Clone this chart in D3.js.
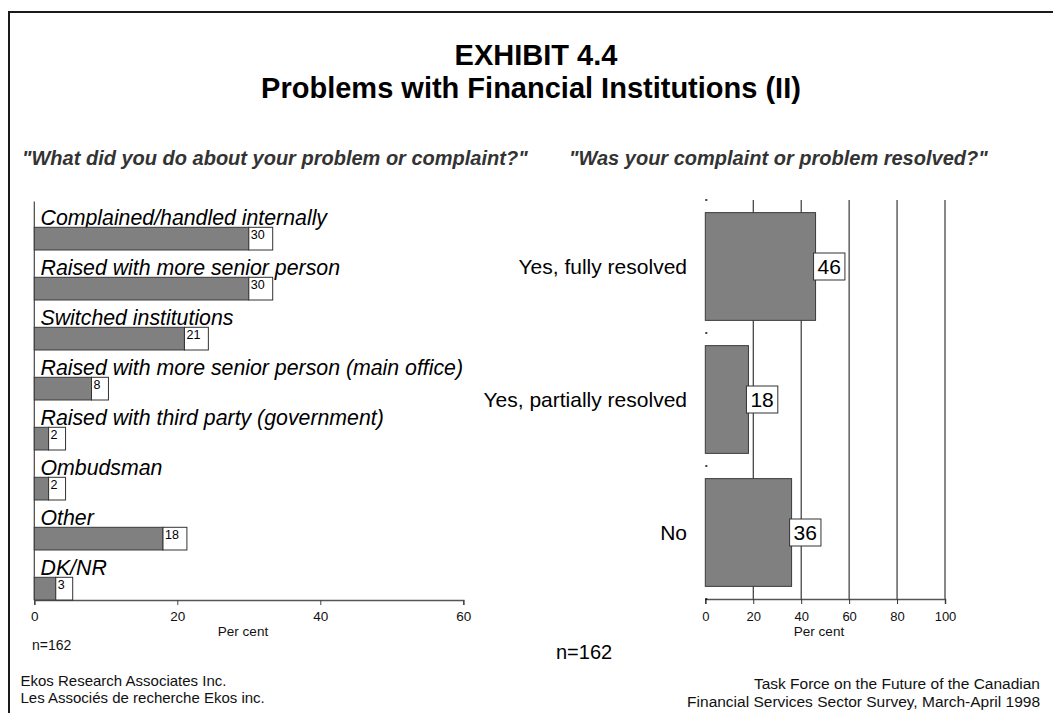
<!DOCTYPE html>
<html><head><meta charset="utf-8">
<script src="https://cdn.jsdelivr.net/npm/d3@7"></script>
<style>
html,body{margin:0;padding:0;background:#fff;}
text{font-family:"Liberation Sans",Arial,Helvetica,sans-serif;}
</style></head>
<body>
<svg id="chart" width="1053" height="713"></svg>
<script>
// ---- data ----
const actionCategories = ["Complained/handled internally","Raised with more senior person","Switched institutions","Raised with more senior person (main office)","Raised with third party (government)","Ombudsman","Other","DK/NR"];
const actionValues = [30,30,21,8,2,2,18,3];
const actionTicks = [0,20,40,60];
const resolvedCategories = ["Yes, fully resolved","Yes, partially resolved","No"];
const resolvedValues = [46,18,36];
const resolvedTicks = [0,20,40,60,80,100];
const titleLines = ["EXHIBIT 4.4","Problems with Financial Institutions (II)"];
const leftQuestion = "\"What did you do about your problem or complaint?\"";
const rightQuestion = "\"Was your complaint or problem resolved?\"";
const sampleLabel = "n=162";
const footerLeft = ["Ekos Research Associates Inc.","Les Associés de recherche Ekos inc."];
const footerRight = ["Task Force on the Future of the Canadian","Financial Services Sector Survey, March-April 1998"];

const svg = d3.select("#chart");
const BAR_FILL = "#808080", BAR_STROKE = "#3a3a3a";

// frame
svg.append("rect").attr("x",9).attr("y",12).attr("width",1100).attr("height",800)
  .attr("fill","none").attr("stroke","#1a1a1a").attr("stroke-width",2);

// titles
svg.append("text").attr("x",536).attr("y",65).attr("text-anchor","middle").attr("font-size",29)
  .attr("font-weight","bold").attr("fill","#000").text(titleLines[0]);
svg.append("text").attr("x",531).attr("y",98).attr("text-anchor","middle").attr("font-size",29)
  .attr("font-weight","bold").attr("fill","#000").text(titleLines[1]);

svg.append("text").attr("x",22).attr("y",165).attr("font-size",20).attr("font-weight","bold")
  .attr("font-style","italic").attr("fill","#333").text(leftQuestion);
svg.append("text").attr("x",569).attr("y",165).attr("font-size",20).attr("font-weight","bold")
  .attr("font-style","italic").attr("fill","#333").text(rightQuestion);

// ---- left chart ----
const xL = d3.scaleLinear().domain([0,60]).range([34.3,463.3]);
const yL = d3.scaleBand().domain(actionCategories).range([200,600]).paddingInner(0).paddingOuter(0);
const bw = yL.bandwidth();
const barTopOff = bw*0.546, barH = bw*0.454;

const gL = svg.append("g");
gL.append("line").attr("x1",xL(0)).attr("x2",xL(0)).attr("y1",201.5).attr("y2",600).attr("stroke","#444").attr("stroke-width",1.2);
const axL = gL.append("g").attr("transform","translate(0,600)")
  .call(d3.axisBottom(xL).tickValues(actionTicks).tickSize(5).tickPadding(6));
axL.select(".domain").attr("stroke","#555").attr("stroke-width",1.5);
axL.selectAll(".tick line").attr("stroke","#444");
axL.selectAll(".tick text").attr("font-size",13.5).attr("fill","#111").attr("font-family","Liberation Sans, Arial, sans-serif");
gL.append("text").attr("x",243).attr("y",636).attr("text-anchor","middle").attr("font-size",13.5).attr("fill","#111").text("Per cent");

const rowsL = gL.selectAll("g.row").data(actionCategories.map((c,i)=>({c,v:actionValues[i]}))).join("g").attr("class","row");
rowsL.append("text").attr("x",40.5).attr("y",d=>yL(d.c)+25).attr("font-size",21.3).attr("font-style","italic").attr("fill","#000").text(d=>d.c);
rowsL.append("rect").attr("x",xL(0)).attr("y",d=>yL(d.c)+barTopOff).attr("width",d=>xL(d.v)-xL(0)).attr("height",barH)
  .attr("fill",BAR_FILL).attr("stroke",BAR_STROKE).attr("stroke-width",1);
rowsL.each(function(d){
  const g = d3.select(this);
  const t = g.append("text").attr("font-size",12.5).attr("fill","#000").text(d.v);
  const w = t.node().getComputedTextLength();
  const bx = xL(d.v), by = yL(d.c)+barTopOff;
  g.insert("rect","text:last-child").attr("x",bx).attr("y",by).attr("width",w+10).attr("height",barH)
    .attr("fill","#fff").attr("stroke","#333").attr("stroke-width",1);
  t.attr("x",bx+2).attr("y",by+12);
  t.raise();
});

gL.append("text").attr("x",32).attr("y",650).attr("font-size",14).attr("fill","#111").text(sampleLabel);

// ---- right chart ----
const xR = d3.scaleLinear().domain([0,100]).range([705.3,945]);
const yR = d3.scaleBand().domain(resolvedCategories).range([200,599]).paddingInner(0.19).paddingOuter(0.095);
const gR = svg.append("g");
gR.selectAll("line.grid").data(resolvedTicks.filter(t=>t>0)).join("line").attr("class","grid")
  .attr("x1",d=>xR(d)).attr("x2",d=>xR(d)).attr("y1",200).attr("y2",599).attr("stroke","#111").attr("stroke-width",1);
const axR = gR.append("g").attr("transform","translate(0,599)")
  .call(d3.axisBottom(xR).tickValues(resolvedTicks).tickSize(5).tickPadding(8));
axR.select(".domain").attr("stroke","#555").attr("stroke-width",1.5);
axR.selectAll(".tick line").attr("stroke","#333");
axR.selectAll(".tick text").attr("font-size",13).attr("fill","#111").attr("font-family","Liberation Sans, Arial, sans-serif");
gR.append("text").attr("x",819).attr("y",635.5).attr("text-anchor","middle").attr("font-size",13.5).attr("fill","#111").text("Per cent");
const step = yR.step();
gR.selectAll("line.bt").data(d3.range(resolvedCategories.length+1)).join("line").attr("class","bt")
  .attr("x1",xR(0)).attr("x2",xR(0)+2).attr("y1",d=>200+d*step).attr("y2",d=>200+d*step).attr("stroke","#000").attr("stroke-width",1.5);

const rowsR = gR.selectAll("g.row").data(resolvedCategories.map((c,i)=>({c,v:resolvedValues[i]}))).join("g").attr("class","row");
rowsR.append("rect").attr("x",xR(0)).attr("y",d=>yR(d.c)).attr("width",d=>xR(d.v)-xR(0)).attr("height",yR.bandwidth())
  .attr("fill",BAR_FILL).attr("stroke",BAR_STROKE).attr("stroke-width",1);
rowsR.append("text").attr("x",687).attr("y",d=>yR(d.c)+yR.bandwidth()/2+7.5).attr("text-anchor","end")
  .attr("font-size",21).attr("fill","#000").text(d=>d.c);
rowsR.each(function(d){
  const g = d3.select(this);
  const t = g.append("text").attr("font-size",21).attr("fill","#000").text(d.v);
  const w = t.node().getComputedTextLength();
  const cy = yR(d.c)+yR.bandwidth()/2;
  const bx = xR(d.v)-2;
  g.insert("rect","text:last-child").attr("x",bx).attr("y",cy-13.5).attr("width",w+8).attr("height",27)
    .attr("fill","#fff").attr("stroke","#333").attr("stroke-width",1);
  t.attr("x",bx+4).attr("y",cy+7.5);
  t.raise();
});

svg.append("text").attr("x",556).attr("y",659).attr("font-size",20).attr("fill","#000").text(sampleLabel);

// footers
svg.selectAll("text.fl").data(footerLeft).join("text").attr("class","fl")
  .attr("x",20.5).attr("y",(d,i)=>686+i*17).attr("font-size",15).attr("fill","#111").text(d=>d);
svg.selectAll("text.fr").data(footerRight).join("text").attr("class","fr")
  .attr("x",1040).attr("y",(d,i)=>689+i*17.5).attr("text-anchor","end").attr("font-size",15.5).attr("fill","#111").text(d=>d);
</script>
</body></html>
